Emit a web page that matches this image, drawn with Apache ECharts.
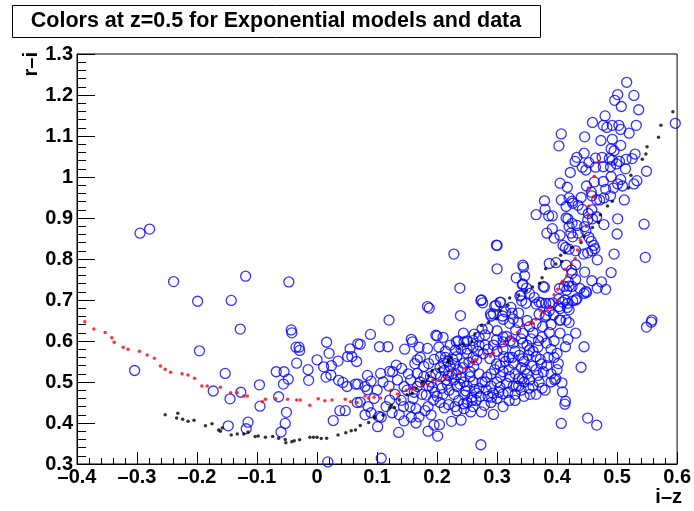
<!DOCTYPE html>
<html>
<head>
<meta charset="utf-8">
<script src="https://cdn.jsdelivr.net/npm/echarts@6/dist/echarts.min.js"></script>
<style>html,body{margin:0;padding:0;background:#fff}#c{width:694px;height:511px}</style>
</head>
<body>
<div id="c"></div>
<script>
var titleText = 'Colors at z=0.5 for Exponential models and data';
var xName = 'i\u2013z';
var yName = 'r\u2013i';

// Red model dots
var modelRed = [
[-0.387,0.647],[-0.372,0.629],[-0.353,0.621],[-0.342,0.608],[-0.338,0.597],[-0.323,0.585],[-0.315,0.580],
[-0.296,0.575],[-0.283,0.566],[-0.271,0.558],[-0.261,0.539],[-0.253,0.531],[-0.244,0.524],[-0.225,0.520],
[-0.215,0.517],[-0.204,0.509],[-0.192,0.490],[-0.183,0.490],[-0.161,0.487],[-0.144,0.474],[-0.133,0.474],
[-0.122,0.466],[-0.116,0.466],[-0.091,0.452],[-0.086,0.458],[-0.069,0.459],[-0.049,0.458],[-0.034,0.456],
[-0.028,0.456],[-0.012,0.443],[0.002,0.459],[0.013,0.454],[0.025,0.456],[0.047,0.458],[0.056,0.452],
[0.067,0.450],[0.080,0.466],[0.086,0.461],[0.095,0.463],[0.106,0.461],[0.123,0.480],[0.134,0.471],
[0.149,0.480],[0.156,0.484],[0.162,0.487],[0.175,0.493],[0.185,0.493],[0.193,0.505],[0.204,0.504],
[0.215,0.511],[0.225,0.528],[0.238,0.523],[0.248,0.533],[0.260,0.546],[0.264,0.554],[0.279,0.568],
[0.289,0.563],[0.294,0.571],[0.306,0.585],[0.312,0.593],[0.322,0.609],[0.328,0.601],[0.334,0.621],
[0.343,0.638],[0.355,0.646],[0.360,0.643],[0.365,0.653],[0.372,0.674],[0.378,0.669],[0.384,0.680],
[0.390,0.682],[0.395,0.713],[0.400,0.698],[0.401,0.726],[0.408,0.742],[0.409,0.746],[0.416,0.759],
[0.413,0.775],[0.424,0.788],[0.430,0.801],[0.434,0.822],[0.439,0.846],[0.449,0.879],[0.452,0.907],
[0.453,0.929],[0.461,0.952],[0.452,0.973],[0.462,1.002],[0.469,1.037]
];

// Black model dots
var modelBlack = [
[-0.253,0.420],[-0.232,0.424],[-0.234,0.412],[-0.224,0.409],[-0.215,0.404],[-0.205,0.407],[-0.186,0.393],
[-0.175,0.398],[-0.164,0.383],[-0.161,0.380],[-0.158,0.388],[-0.143,0.371],[-0.133,0.373],[-0.122,0.373],
[-0.115,0.378],[-0.103,0.367],[-0.098,0.368],[-0.086,0.365],[-0.074,0.367],[-0.064,0.363],[-0.053,0.360],
[-0.052,0.352],[-0.042,0.354],[-0.038,0.357],[-0.029,0.359],[-0.012,0.365],[-0.006,0.365],[0.000,0.365],
[0.007,0.362],[0.016,0.363],[0.035,0.371],[0.048,0.376],[0.057,0.381],[0.064,0.383],[0.072,0.394],
[0.086,0.401],[0.095,0.415],[0.096,0.412],[0.110,0.419],[0.121,0.437],[0.124,0.443],[0.129,0.438],
[0.137,0.456],[0.150,0.469],[0.159,0.472],[0.165,0.484],[0.175,0.497],[0.176,0.502],[0.186,0.515],
[0.192,0.528],[0.203,0.532],[0.218,0.549],[0.219,0.554],[0.223,0.560],[0.236,0.581],[0.244,0.593],
[0.258,0.599],[0.263,0.617],[0.274,0.638],[0.286,0.646],[0.299,0.654],[0.305,0.674],[0.318,0.687],
[0.321,0.705],[0.336,0.712],[0.349,0.723],[0.359,0.732],[0.371,0.741],[0.375,0.754],[0.381,0.776],
[0.398,0.788],[0.408,0.794],[0.406,0.809],[0.413,0.815],[0.425,0.828],[0.440,0.840],[0.445,0.854],
[0.459,0.877],[0.469,0.889],[0.472,0.908],[0.484,0.929],[0.492,0.941],[0.519,0.973],[0.523,1.004],
[0.542,1.043],[0.548,1.056],[0.550,1.074],[0.569,1.097],[0.573,1.126],[0.593,1.159]
];

// Blue data circles
var dataPoints = [
// left / sparse region
[-0.295,0.863],[-0.279,0.873],[-0.239,0.745],[-0.199,0.697],[-0.143,0.699],[-0.119,0.758],[-0.047,0.744],
[-0.128,0.629],[-0.043,0.627],[-0.196,0.576],[-0.304,0.528],[-0.153,0.521],[-0.173,0.478],[-0.145,0.459],
[-0.127,0.475],[-0.096,0.493],[-0.095,0.441],[-0.148,0.393],[-0.115,0.402],[-0.118,0.386],[-0.060,0.378],
[-0.053,0.399],[-0.051,0.426],[-0.064,0.464],[-0.056,0.495],[-0.068,0.525],[-0.055,0.525],[-0.048,0.507],
[-0.042,0.620],[-0.035,0.585],[-0.030,0.585],[-0.029,0.577],[-0.034,0.546],[-0.015,0.530],[-0.014,0.504],
[0.000,0.554],[0.016,0.597],[0.020,0.570],[0.011,0.537],[0.024,0.540],[0.015,0.512],[0.023,0.517],
[0.035,0.551],[0.036,0.504],[0.043,0.499],[0.050,0.489],[0.027,0.406],[0.038,0.430],[0.047,0.430],
[0.051,0.562],[0.055,0.581],[0.058,0.562],[0.066,0.550],[0.064,0.495],[0.067,0.450],[0.068,0.593],
[0.018,0.305],[0.107,0.314],
// middle region
[0.238,0.729],[0.184,0.684],[0.273,0.699],[0.120,0.651],[0.239,0.662],[0.089,0.616],[0.072,0.592],
[0.104,0.586],[0.118,0.586],[0.146,0.580],[0.157,0.604],[0.159,0.598],[0.170,0.585],[0.184,0.582],
[0.200,0.612],[0.210,0.609],[0.198,0.614],[0.232,0.598],[0.244,0.619],[0.245,0.598],[0.260,0.601],
[0.250,0.580],[0.262,0.617],[0.275,0.629],[0.290,0.661],[0.298,0.687],[0.306,0.694],[0.294,0.666],
[0.310,0.653],[0.321,0.643],[0.336,0.668],[0.340,0.712],[0.342,0.738],[0.354,0.716],[0.365,0.690],
[0.379,0.731],[0.370,0.695],[0.387,0.692],[0.403,0.684],[0.409,0.695],[0.420,0.734],[0.431,0.700],
[0.418,0.692],[0.445,0.716],[0.406,0.651],[0.420,0.645],[0.431,0.619],[0.405,0.619],[0.418,0.604],
[0.414,0.586],[0.445,0.586],[0.440,0.536],[0.398,0.508],[0.396,0.505],[0.409,0.476],[0.414,0.453],
[0.407,0.399],[0.368,0.516],[0.354,0.505],[0.342,0.508],[0.332,0.490],[0.310,0.471],[0.291,0.463],
[0.294,0.421],[0.279,0.443],[0.274,0.427],[0.273,0.347],[0.256,0.427],[0.240,0.407],[0.224,0.404],
[0.204,0.396],[0.201,0.368],[0.136,0.377],[0.101,0.391],[0.107,0.414],[0.103,0.416],[0.072,0.451],
[0.068,0.495],[0.084,0.516],[0.106,0.521],[0.090,0.502],[0.080,0.489],[0.084,0.481],[0.132,0.541],
[0.141,0.533],[0.121,0.526],[0.126,0.525],[0.121,0.456],[0.144,0.440],[0.137,0.420],[0.157,0.414],
[0.165,0.435],[0.185,0.440],[0.194,0.456],[0.182,0.468],[0.192,0.487],[0.212,0.437],[0.230,0.440],
[0.246,0.468],[0.244,0.447],[0.258,0.463],[0.266,0.473],[0.282,0.481],[0.293,0.473],[0.305,0.487],
[0.316,0.497],[0.327,0.490],[0.306,0.513],[0.321,0.513],[0.336,0.508],[0.347,0.531],[0.358,0.539],
[0.374,0.544],[0.365,0.562],[0.343,0.557],[0.327,0.546],[0.299,0.544],[0.288,0.557],[0.277,0.569],
[0.280,0.590],[0.299,0.603],[0.310,0.598],[0.327,0.595],[0.343,0.595],[0.354,0.578],[0.369,0.601],
[0.382,0.595],[0.387,0.621],[0.376,0.635],[0.365,0.643],[0.354,0.635],[0.343,0.619],[0.331,0.627],
[0.325,0.668],[0.316,0.611],[0.311,0.562],[0.222,0.538],[0.211,0.546],[0.206,0.562],[0.233,0.562],
[0.244,0.546],[0.228,0.505],[0.233,0.489],[0.217,0.495],[0.255,0.513],[0.261,0.538],[0.266,0.554],
[0.167,0.554],[0.178,0.538],[0.167,0.521],[0.156,0.505],[0.145,0.489],[0.134,0.505],[0.167,0.489],
[0.178,0.513],[0.206,0.513],[0.189,0.513],
[0.205,0.535],[0.212,0.528],[0.218,0.550],[0.225,0.520],[0.230,0.545],[0.215,0.505],[0.235,0.530],
[0.240,0.510],[0.198,0.520],[0.220,0.480],[0.228,0.470],[0.210,0.470],[0.236,0.455],[0.250,0.490],
[0.260,0.500],[0.270,0.520],[0.280,0.500],[0.290,0.520],[0.300,0.500],[0.310,0.525],[0.320,0.530],
[0.330,0.520],[0.340,0.535],[0.345,0.550],[0.320,0.560],[0.300,0.575],[0.285,0.580],[0.270,0.590],
[0.260,0.560],[0.250,0.570],[0.240,0.580],[0.330,0.575],[0.350,0.590],[0.360,0.575],[0.375,0.610],
[0.360,0.620],[0.390,0.580],[0.385,0.560],[0.400,0.570],[0.395,0.600],[0.380,0.660],[0.370,0.665],
[0.390,0.640],[0.350,0.650],[0.335,0.645],[0.300,0.625],[0.285,0.630],[0.270,0.610],[0.280,0.615],
[0.310,0.580],[0.190,0.500],[0.175,0.470],[0.160,0.460],[0.150,0.480],[0.130,0.470],[0.120,0.490],
[0.110,0.500],[0.100,0.480],[0.095,0.460],[0.085,0.440],[0.080,0.420],[0.090,0.425],[0.115,0.440],
[0.125,0.425],[0.140,0.455],[0.155,0.440],[0.170,0.415],[0.180,0.430],[0.190,0.420],[0.195,0.395],
[0.185,0.380],[0.165,0.400],[0.145,0.405],[0.250,0.450],[0.260,0.440],[0.265,0.455],[0.290,0.450],
[0.300,0.460],[0.310,0.440],[0.320,0.455],[0.330,0.470],[0.340,0.480],[0.355,0.470],[0.360,0.490],
[0.370,0.500],[0.380,0.480],[0.390,0.520],[0.350,0.520],[0.270,0.485],[0.290,0.490],[0.255,0.525],
[0.245,0.500],[0.208,0.485],[0.200,0.465],
[0.152,0.520],[0.163,0.545],[0.172,0.560],[0.186,0.545],[0.195,0.555],[0.203,0.585],[0.214,0.575],
[0.222,0.590],[0.231,0.578],[0.214,0.560],[0.226,0.555],[0.219,0.515],[0.232,0.518],[0.243,0.535],
[0.253,0.548],[0.238,0.495],[0.248,0.478],[0.262,0.482],[0.275,0.500],[0.283,0.512],[0.296,0.530],
[0.305,0.540],[0.314,0.550],[0.325,0.560],[0.337,0.565],[0.352,0.565],[0.365,0.530],[0.377,0.525],
[0.383,0.540],[0.372,0.555],[0.336,0.490],[0.345,0.500],[0.353,0.485],[0.318,0.475],[0.303,0.475],
[0.285,0.465],[0.272,0.465],[0.258,0.455],[0.245,0.435],[0.233,0.430],[0.219,0.445],[0.205,0.450],
[0.196,0.475],[0.186,0.490],[0.172,0.500],[0.162,0.475],[0.310,0.610],[0.322,0.600],[0.340,0.605],
[0.357,0.605],[0.368,0.585],[0.294,0.590],[0.260,0.585],[0.268,0.575],[0.235,0.600],[0.250,0.600],
[0.395,0.560],[0.402,0.545],[0.400,0.530],[0.390,0.500],[0.375,0.485],[0.365,0.470],[0.345,0.465],
[0.330,0.455],
[0.228,0.812],[0.299,0.834],[0.344,0.780],[0.332,0.754],[0.187,0.680],[0.276,0.693],
[0.408,0.498],[0.413,0.446],[0.451,0.412],[0.466,0.395],[0.557,0.646],[0.549,0.634],
// upper right branch
[0.516,1.231],[0.501,1.201],[0.528,1.199],[0.496,1.187],[0.507,1.172],[0.536,1.164],[0.480,1.149],
[0.459,1.133],[0.477,1.126],[0.483,1.121],[0.492,1.126],[0.503,1.126],[0.506,1.116],[0.520,1.107],
[0.532,1.126],[0.597,1.131],[0.407,1.105],[0.403,1.076],[0.446,1.098],[0.473,1.089],[0.492,1.092],
[0.490,1.069],[0.506,1.077],[0.495,1.064],[0.530,1.056],[0.525,1.045],[0.515,1.043],[0.504,1.038],
[0.492,1.041],[0.487,1.045],[0.475,1.048],[0.464,1.046],[0.453,1.035],[0.445,1.058],[0.433,1.048],
[0.430,1.038],[0.442,1.024],[0.448,1.017],[0.464,1.024],[0.477,1.025],[0.489,1.025],[0.499,1.032],
[0.514,1.020],[0.549,1.014],[0.422,1.011],[0.462,0.988],[0.477,0.989],[0.490,1.001],[0.506,0.994],
[0.501,0.983],[0.509,0.978],[0.494,0.973],[0.533,0.991],[0.528,0.983],[0.405,0.985],[0.417,0.975],
[0.449,0.978],[0.457,0.963],[0.458,0.954],[0.466,0.944],[0.471,0.944],[0.478,0.949],[0.489,0.954],
[0.512,0.944],[0.481,0.970],[0.440,0.950],[0.420,0.949],[0.425,0.941],[0.407,0.944],[0.379,0.942],
[0.380,0.921],[0.386,0.905],[0.392,0.905],[0.365,0.908],[0.415,0.928],[0.426,0.936],[0.435,0.931],
[0.442,0.921],[0.452,0.911],[0.458,0.920],[0.451,0.895],[0.459,0.898],[0.466,0.903],[0.478,0.884],
[0.501,0.898],[0.545,0.885],[0.500,0.861],[0.392,0.874],[0.383,0.863],[0.395,0.851],[0.415,0.900],
[0.418,0.898],[0.425,0.887],[0.433,0.882],[0.420,0.879],[0.423,0.863],[0.426,0.854],[0.435,0.863],
[0.446,0.879],[0.448,0.869],[0.453,0.853],[0.457,0.843],[0.461,0.833],[0.463,0.825],[0.458,0.820],
[0.451,0.815],[0.444,0.812],[0.431,0.820],[0.420,0.824],[0.414,0.828],[0.410,0.833],[0.405,0.858],
[0.300,0.833],[0.495,0.812],[0.547,0.804],[0.300,0.776],[0.343,0.785],[0.346,0.759],[0.343,0.739],
[0.349,0.729],[0.377,0.733],[0.387,0.789],[0.398,0.791],[0.415,0.785],[0.431,0.786],[0.424,0.773],
[0.425,0.765],[0.446,0.768],[0.431,0.750],[0.419,0.744],[0.412,0.733],[0.404,0.728],[0.416,0.724],
[0.425,0.733],[0.438,0.728],[0.448,0.721],[0.449,0.718],[0.458,0.747],[0.467,0.729],[0.474,0.744],
[0.481,0.726],[0.490,0.767],[0.467,0.798],[0.274,0.700],[0.305,0.695],[0.296,0.685],[0.289,0.666],
[0.309,0.661],[0.314,0.671],[0.323,0.682],[0.338,0.710],[0.341,0.698],[0.348,0.692],[0.362,0.706],
[0.374,0.693],[0.381,0.692],[0.393,0.693],[0.403,0.702],[0.413,0.700],[0.426,0.698],[0.433,0.703],
[0.382,0.663],[0.387,0.674],[0.394,0.664],[0.405,0.679],[0.417,0.682],[0.420,0.676],[0.327,0.654],
[0.404,0.651],[0.415,0.651],[0.558,0.651]
];

var FONT = '"Liberation Sans", Arial, Helvetica, sans-serif';
function fmt(v){
  var r = Math.round(v*10)/10;
  if (Math.abs(r) < 1e-9) return '0';
  var s = String(r);
  return s.replace('-', '\u2013');
}

var chart = echarts.init(document.getElementById('c'), null, {renderer:'canvas'});
chart.setOption({
  animation: false,
  backgroundColor: '#fff',
  grid: {left: 77, right: 12, top: 54, bottom: 47, show: true, borderColor: '#000', borderWidth: 1, backgroundColor: 'transparent'},
  xAxis: {
    type: 'value', min: -0.4, max: 0.6, interval: 0.1,
    axisLine: {show: true, onZero: false, lineStyle: {color: '#000', width: 1}},
    axisTick: {show: true, inside: true, length: 12, lineStyle: {color: '#000', width: 1}},
    minorTick: {show: true, splitNumber: 5, length: 6, lineStyle: {color: '#000', width: 1}},
    splitLine: {show: false},
    axisLabel: {formatter: fmt, color: '#000', fontFamily: FONT, fontWeight: 'bold', fontSize: 20, margin: 3, showMinLabel: true, showMaxLabel: true}
  },
  yAxis: {
    type: 'value', min: 0.3, max: 1.3, interval: 0.1,
    axisLine: {show: true, onZero: false, lineStyle: {color: '#000', width: 1}},
    axisTick: {show: true, inside: true, length: 18, lineStyle: {color: '#000', width: 1}},
    minorTick: {show: true, splitNumber: 5, length: 9, lineStyle: {color: '#000', width: 1}},
    splitLine: {show: false},
    axisLabel: {formatter: fmt, color: '#000', fontFamily: FONT, fontWeight: 'bold', fontSize: 20, margin: 4, showMinLabel: true, showMaxLabel: true}
  },
  graphic: [
    {type: 'rect', left: 12, top: 5, shape: {width: 528, height: 32}, style: {fill: '#fff', stroke: '#000', lineWidth: 1}, z: 10},
    {type: 'text', x: 276, y: 21, style: {text: titleText, font: 'bold 21.5px ' + FONT, fill: '#000', textAlign: 'center', textVerticalAlign: 'middle'}, z: 11},
    {type: 'text', x: 682, y: 497, style: {text: xName, font: 'bold 20px ' + FONT, fill: '#000', textAlign: 'right', textVerticalAlign: 'middle'}, z: 11},
    {type: 'text', x: 31, y: 52, rotation: Math.PI/2, style: {text: yName, font: 'bold 20px ' + FONT, fill: '#000', textAlign: 'right', textVerticalAlign: 'middle'}, z: 11}
  ],
  series: [
    {type: 'scatter', data: dataPoints, symbol: 'circle', symbolSize: 10,
     itemStyle: {color: 'rgba(0,0,0,0)', borderColor: '#0000ff', borderWidth: 1.3}, z: 2},
    {type: 'scatter', data: modelBlack, symbol: 'circle', symbolSize: 3.5,
     itemStyle: {color: '#000'}, z: 3},
    {type: 'scatter', data: modelRed, symbol: 'circle', symbolSize: 3.5,
     itemStyle: {color: '#ff0000'}, z: 4}
  ]
});
</script>
</body>
</html>
